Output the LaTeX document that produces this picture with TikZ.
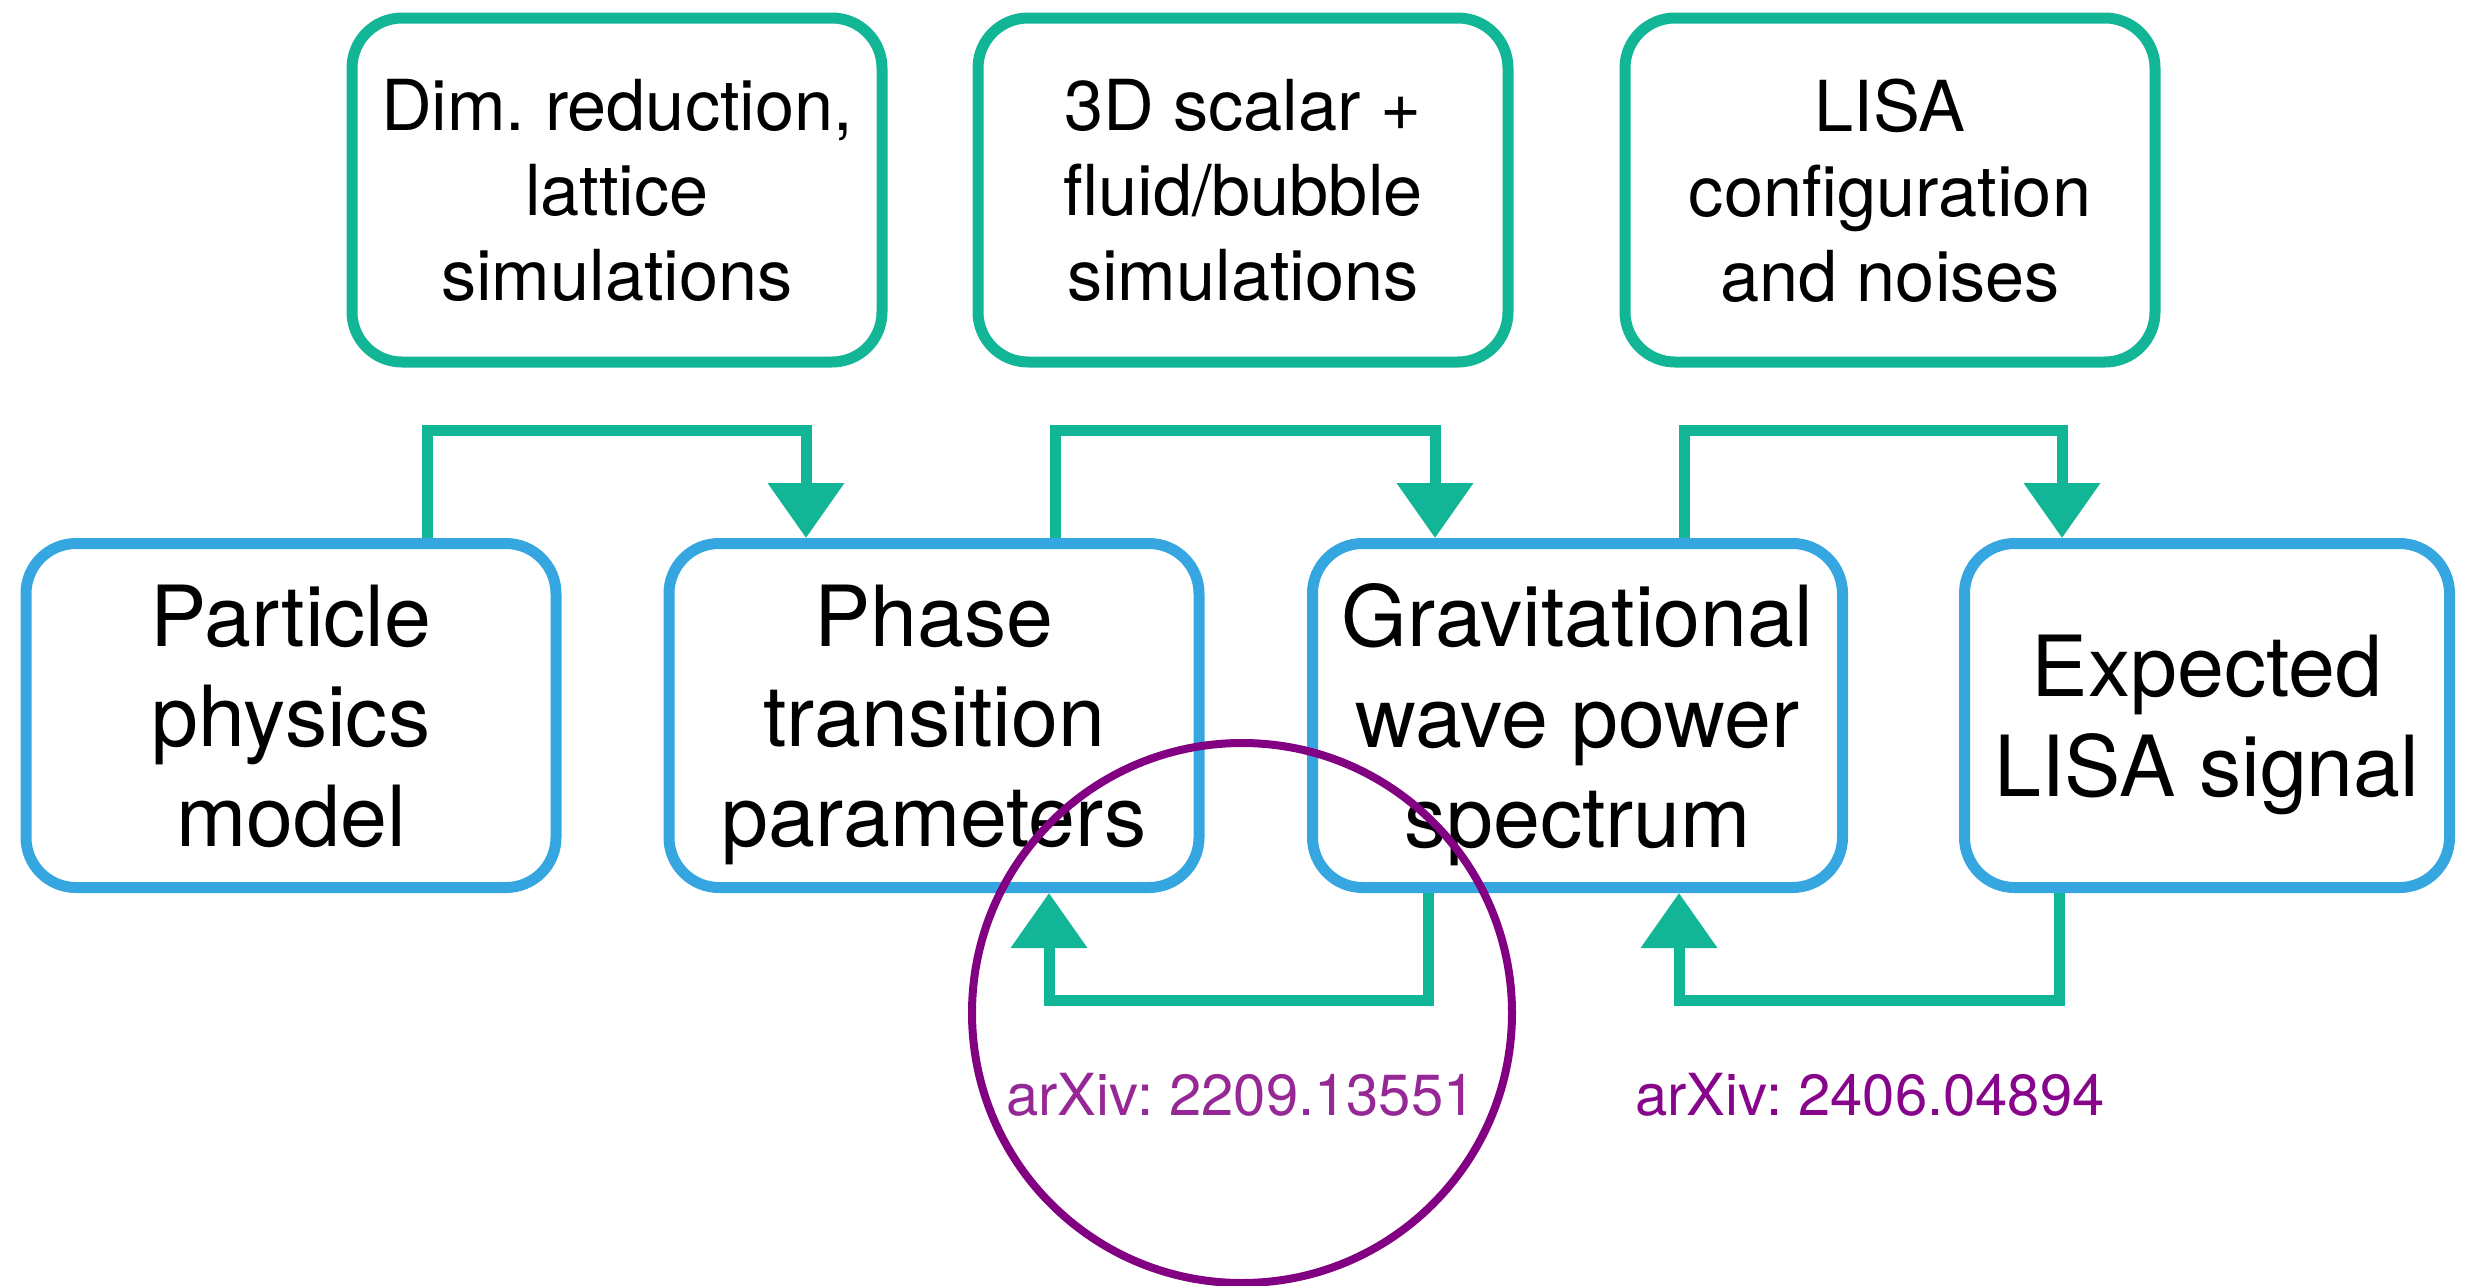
\documentclass[tikz,border=0pt]{standalone}
\usepackage{fontspec}
\setmainfont{TeX Gyre Heros}
\usetikzlibrary{arrows.meta}
\definecolor{teal1}{RGB}{18,182,150}
\definecolor{blue1}{RGB}{53,166,224}
\definecolor{purp}{RGB}{130,0,130}
\definecolor{purptxt}{RGB}{150,40,150}
\definecolor{purptxt2}{RGB}{134,5,138}
\frenchspacing
\begin{document}
\begin{tikzpicture}[x=0.1mm,y=-0.1mm,
 topbox/.style={draw=teal1, line width=1.1mm, rounded corners=5mm, minimum width=53mm, minimum height=34.4mm, align=center, font=\fontsize{20}{24.2}\selectfont, text depth=0pt, inner sep=0pt},
 botbox/.style={draw=blue1, line width=1.1mm, rounded corners=5mm, minimum width=53mm, minimum height=34.4mm, align=center, font=\fontsize{24}{28.5}\selectfont, text depth=0pt, inner sep=0pt},
 flow/.style={draw=teal1, line width=1.1mm, -{Triangle[length=5.5mm,width=7.4mm]}},
 reflabel/.style={font=\fontsize{16.5}{20}\selectfont, anchor=base},
 ring/.style={draw=purp, line width=0.8mm, circle, minimum size=54mm, inner sep=0pt}]
\useasboundingbox (0,0) rectangle (2468,1286);

\node[topbox] (t1) at (617,190) {Dim. reduction,\\lattice\\simulations};
\node[topbox] (t2) at (1243,190) {3D scalar +\\fluid/bubble\\simulations};
\node[topbox] (t3) at (1890,190) {LISA\\configuration\\and noises};

\node[botbox] (b1) at (291,715.5) {Particle\\physics\\model};
\node[botbox] (b2) at (934,715.5) {Phase\\transition\\parameters};
\node[botbox] (b3) at (1577.5,715.5) {Gravitational\\wave power\\spectrum};
\node[botbox, minimum width=48.5mm] (b4) at (2207,715.5) {Expected\\LISA signal};

\draw[flow] ([xshift=13.6mm]b1.north) -- ++(0,10.8mm) -| ([xshift=-12.8mm]b2.north);
\draw[flow] ([xshift=12.1mm]b2.north) -- ++(0,10.8mm) -| ([xshift=-14.25mm]b3.north);
\draw[flow] ([xshift=10.65mm]b3.north) -- ++(0,10.8mm) -| ([xshift=-14.5mm]b4.north);

\draw[flow] ([xshift=-14.95mm]b3.south) -- ++(0,-10.7mm) -| ([xshift=11.5mm]b2.south);
\draw[flow] ([xshift=-14.8mm]b4.south) -- ++(0,-10.7mm) -| ([xshift=10.15mm]b3.south);

\node[reflabel, text=purptxt] (r1) at (1241,1115) {arXiv: 2209.13551};
\node[reflabel, text=purptxt2] (r2) at (1870,1115) {arXiv: 2406.04894};

\node[ring] (c1) at (1242,1013) {};
\end{tikzpicture}
\end{document}
